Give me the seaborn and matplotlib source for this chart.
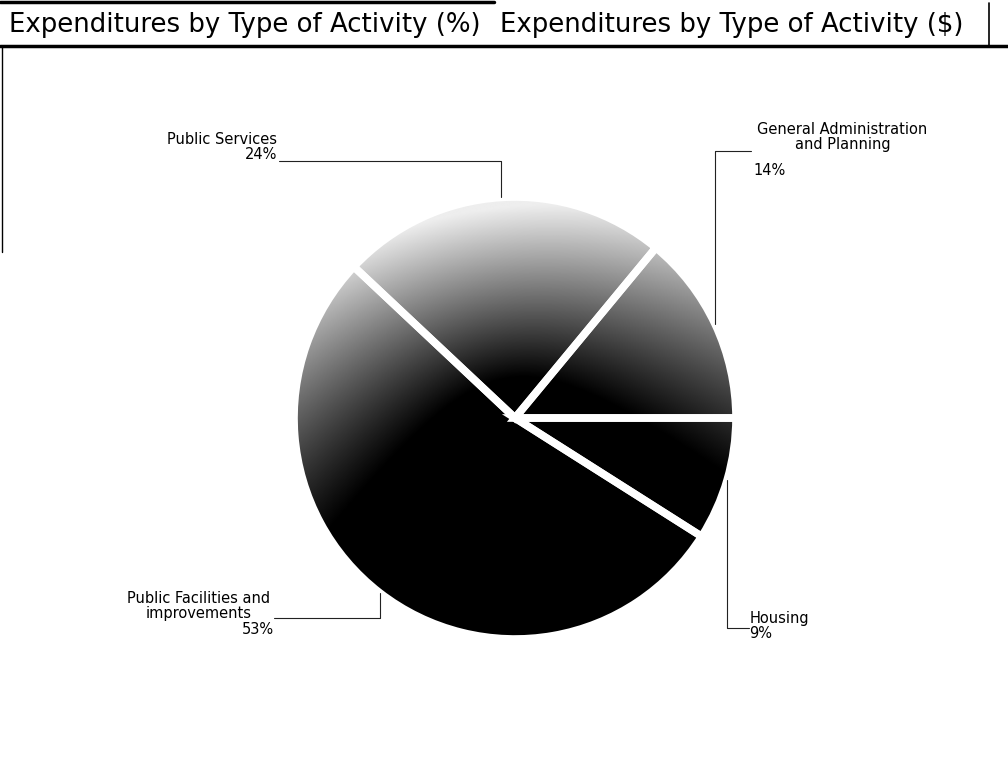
import numpy as np
import matplotlib
matplotlib.use('Agg')
import matplotlib.pyplot as plt
from matplotlib.patches import Circle
import seaborn as sns

# data (counter-clockwise from 3 o'clock)
categories = ['General Administration\nand Planning', 'Public Services',
              'Public Facilities and\nimprovements', 'Housing']
shares = [14, 24, 53, 9]
pct_labels = ['14%', '24%', '53%', '9%']
titles = ['Expenditures by Type of Activity (%)', 'Expenditures by Type of Activity ($)']

sns.set_style('white')
plt.rcParams['font.family'] = ['DejaVu Sans']
plt.rcParams['text.color'] = 'black'

W, H = 1008, 779
fig = plt.figure(figsize=(W / 100, H / 100), dpi=100)

# header row of the table, in pixel units
hdr = fig.add_axes([0, 0, 1, 1])
hdr.set_xlim(0, W)
hdr.set_ylim(H, 0)
hdr.axis('off')
hdr.plot([0, 494], [2, 2], color='black', lw=2.5)
hdr.plot([0, W], [46, 46], color='black', lw=2.5)
hdr.plot([989, 989], [3, 46], color='black', lw=1.2)
hdr.plot([2, 2], [46, 252], color='black', lw=1)
hdr.text(9, 25, titles[0], fontsize=18.7, va='center')
hdr.text(500, 25, titles[1], fontsize=18.7, va='center')

# pie, centre and radius in pixels
cx, cy, R = 515, 418, 221
ax = fig.add_axes([(cx - R) / W, (H - cy - R) / H, 2 * R / W, 2 * R / H])
wedges, _ = ax.pie(shares, startangle=0, counterclock=True, radius=1,
                   wedgeprops=dict(facecolor='none', edgecolor='white', linewidth=5.5))
for w in wedges:
    w.set_zorder(3)
ax.set_xlim(-1, 1)
ax.set_ylim(-1, 1)
ax.set_aspect('equal')

# grey shading: light on the upper rim, black towards the centre and bottom
g = np.linspace(-1, 1, 500)
X, Y = np.meshgrid(g, g)
shade = np.clip(0.7 * Y - 0.1 * X + 0.5 * np.hypot(X, Y) - 0.22, 0, 0.93)
img = ax.imshow(shade, cmap='gray', vmin=0, vmax=1, extent=(-1, 1, -1, 1),
                origin='lower', zorder=1, interpolation='bilinear')
img.set_clip_path(Circle((0, 0), 1, transform=ax.transData))

# leader lines: from each wedge's mid angle on the rim, up/down then across
bounds = np.cumsum([0] + shares) / sum(shares) * 360
mids = np.deg2rad((bounds[:-1] + bounds[1:]) / 2)
elbow_y = [1.209, 1.164, -0.905, -0.95]
end_x = [1.068, -1.068, -1.09, 1.06]
for m, ey, ex in zip(mids, elbow_y, end_x):
    x0, y0 = np.cos(m), np.sin(m)
    ax.plot([x0, x0, ex], [y0, ey, ey], color='#222222', lw=0.8,
            clip_on=False, zorder=4)

fs = 10.5
ls = 1.0
# General Administration and Planning
ax.text(1.482, 1.27, categories[0], ha='center', va='center', fontsize=fs,
        multialignment='center', linespacing=ls)
ax.text(1.077, 1.118, pct_labels[0], ha='left', va='center', fontsize=fs)
# Public Services
ax.text(-1.077, 1.227, categories[1] + '\n' + pct_labels[1], ha='right', va='center',
        fontsize=fs, multialignment='right', linespacing=ls)
# Public Facilities and Improvements
ax.text(-1.43, -0.85, categories[2], ha='center', va='center', fontsize=fs,
        multialignment='center', linespacing=ls)
ax.text(-1.09, -0.955, pct_labels[2], ha='right', va='center', fontsize=fs)
# Housing
ax.text(1.06, -0.943, categories[3] + '\n' + pct_labels[3], ha='left', va='center',
        fontsize=fs, multialignment='left', linespacing=ls)

fig.savefig('out.png', dpi=100)
